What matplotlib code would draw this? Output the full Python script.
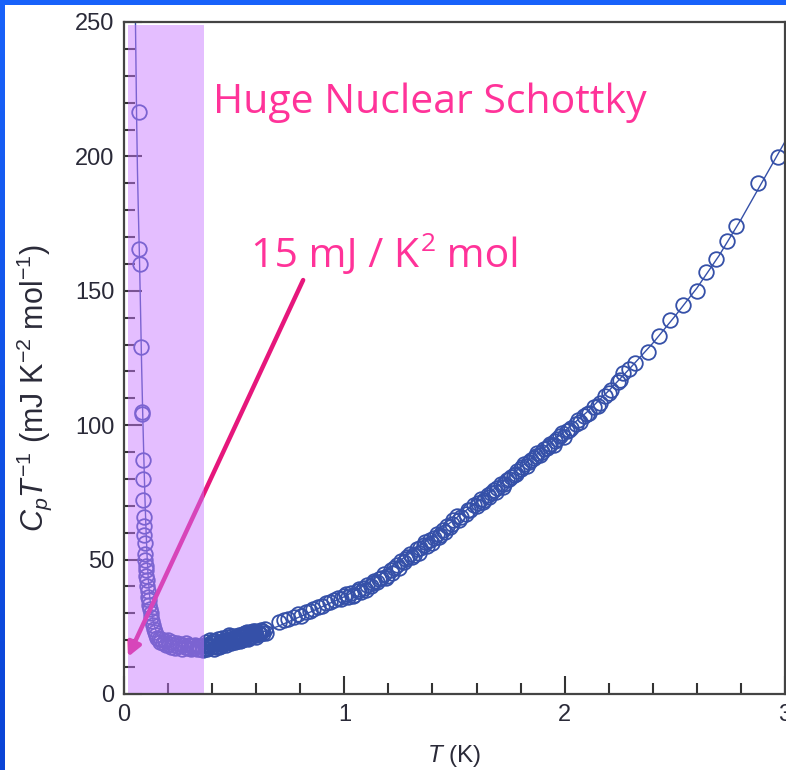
import matplotlib
matplotlib.use("Agg")
import matplotlib.pyplot as plt
from matplotlib import font_manager as fm
from matplotlib.patches import Rectangle
import numpy as np

# ---------------------------------------------------------------- data
# nuclear Schottky upturn below ~0.36 K
T_nuc = [0.068, 0.070, 0.071, 0.078, 0.081, 0.083, 0.086, 0.087, 0.088, 0.090,
         0.091, 0.093, 0.094, 0.096, 0.097, 0.099, 0.100, 0.102, 0.104, 0.106,
         0.108, 0.110, 0.112, 0.115, 0.118, 0.121, 0.124, 0.128, 0.132, 0.136,
         0.141, 0.146, 0.152, 0.158, 0.164, 0.170, 0.177, 0.184, 0.191, 0.198,
         0.205, 0.212, 0.219, 0.226, 0.233, 0.240, 0.247, 0.254, 0.261, 0.268,
         0.275, 0.282, 0.289, 0.296, 0.303, 0.310, 0.317, 0.324, 0.331, 0.338,
         0.345, 0.352, 0.359]
C_nuc = [216.5, 165.5, 160.0, 129.0, 105.0, 104.0, 87.0, 80.0, 72.0, 66.0,
         62.5, 59.0, 56.0, 52.0, 50.0, 47.5, 46.0, 44.0, 42.5, 40.0,
         38.5, 36.0, 35.0, 33.0, 31.5, 30.0, 28.5, 27.0, 25.5, 24.0,
         23.0, 22.0, 21.0, 20.3, 19.5, 20.5, 18.8, 19.6, 18.2, 20.0,
         18.5, 17.6, 19.4, 18.1, 17.2, 19.0, 17.8, 18.6, 16.9, 18.3,
         17.5, 19.1, 17.0, 18.2, 16.8, 17.9, 17.1, 18.4, 16.6, 17.7,
         16.9, 17.8, 16.5]

# electronic + lattice part above ~0.36 K
T_main = [0.366, 0.369, 0.372, 0.378, 0.381, 0.384, 0.390, 0.393, 0.396, 0.402,
          0.405, 0.408, 0.414, 0.417, 0.420, 0.426, 0.429, 0.432, 0.438, 0.441,
          0.444, 0.450, 0.453, 0.456, 0.462, 0.465, 0.468, 0.474, 0.477, 0.480,
          0.486, 0.489, 0.492, 0.498, 0.501, 0.504, 0.510, 0.513, 0.516, 0.522,
          0.525, 0.528, 0.534, 0.537, 0.540, 0.546, 0.549, 0.552, 0.558, 0.561,
          0.564, 0.570, 0.573, 0.576, 0.582, 0.585, 0.588, 0.594, 0.597, 0.600,
          0.608, 0.612, 0.616, 0.624, 0.628, 0.632, 0.640, 0.645,
          0.705, 0.725, 0.745, 0.770, 0.790, 0.805, 0.825, 0.845, 0.860, 0.880,
          0.900, 0.915, 0.935, 0.955, 0.970, 0.985, 1.000,
          1.008, 1.015, 1.030, 1.038, 1.045, 1.060, 1.068, 1.075, 1.090, 1.098,
          1.105, 1.120, 1.128, 1.135, 1.150, 1.158, 1.165, 1.180, 1.188, 1.195,
          1.210, 1.218, 1.225, 1.240, 1.248, 1.255, 1.270, 1.278, 1.285, 1.300,
          1.308, 1.315, 1.330, 1.338, 1.345, 1.360, 1.368, 1.375, 1.390, 1.398,
          1.405, 1.420, 1.428, 1.435, 1.450, 1.458, 1.465, 1.480, 1.488, 1.495,
          1.510, 1.520, 1.530, 1.550, 1.560, 1.570, 1.590, 1.600, 1.605, 1.620,
          1.628, 1.635, 1.650, 1.658, 1.665, 1.680, 1.688, 1.695, 1.710, 1.718,
          1.725, 1.740, 1.748, 1.755, 1.770, 1.778, 1.785, 1.800, 1.808, 1.815,
          1.830, 1.838, 1.845, 1.860, 1.868, 1.875, 1.890, 1.898, 1.905, 1.920,
          1.928, 1.935, 1.950, 1.958, 1.965, 1.980, 1.988, 1.995, 2.010, 2.020,
          2.030, 2.050, 2.060, 2.070, 2.090, 2.100, 2.110, 2.135, 2.150, 2.160,
          2.185, 2.200, 2.210, 2.240, 2.250, 2.266, 2.290, 2.321, 2.376,
          2.430, 2.480, 2.539, 2.602, 2.643, 2.688, 2.738, 2.779, 2.879, 2.966]
C_main = [17.0, 18.2, 19.2, 16.6, 17.8, 18.4, 20.0, 18.8, 17.3, 18.9,
          19.6, 16.8, 19.8, 17.5, 18.0, 20.4, 18.6, 17.6, 19.2, 18.0,
          21.0, 18.5, 19.6, 20.2, 19.0, 18.2, 21.3, 19.7, 21.8, 20.6,
          18.9, 20.3, 21.5, 20.1, 21.0, 19.2, 21.7, 19.6, 20.4, 22.0,
          21.2, 19.8, 21.2, 20.0, 22.4, 20.5, 22.6, 21.8, 22.9, 20.4,
          21.0, 22.3, 21.6, 23.2, 21.5, 23.6, 22.6, 23.5, 21.2, 22.0,
          23.1, 22.8, 22.4, 23.8, 23.4, 22.6, 24.0, 22.7,
          26.8, 27.4, 28.0, 28.8, 29.6, 29.1, 30.4, 31.0, 31.8, 32.3,
          32.9, 33.8, 34.1, 35.0, 35.6, 35.2, 36.4,
          37.2, 36.0, 37.6, 36.4, 36.9, 38.5, 39.2, 38.0, 39.6, 38.8,
          40.5, 40.0, 41.2, 42.0, 41.8, 42.6, 43.3, 44.5, 43.0, 44.0,
          46.2, 45.2, 46.8, 48.0, 47.0, 49.5, 49.0, 50.3, 51.0, 52.2,
          50.8, 51.8, 53.8, 52.6, 54.3, 55.5, 56.4, 55.0, 57.4, 56.2,
          58.0, 59.5, 58.4, 59.2, 61.0, 60.2, 62.5, 62.0, 63.4, 64.6,
          66.3, 64.8, 66.0, 67.0, 68.4, 68.5, 70.2, 69.8, 71.0, 72.5,
          71.4, 72.0, 74.0, 73.2, 74.8, 76.0, 75.2, 76.5, 78.3, 77.0,
          78.0, 79.6, 80.0, 80.8, 81.3, 82.0, 83.0, 83.6, 84.4, 85.5,
          85.0, 86.4, 87.2, 87.8, 88.4, 89.5, 89.0, 90.2, 91.0, 91.6,
          92.2, 93.0, 92.8, 94.2, 95.0, 96.0, 97.0, 95.6, 97.8, 98.2,
          99.0, 100.6, 101.8, 101.2, 103.5, 104.0, 104.6, 106.8, 107.2, 108.4,
          110.8, 112.0, 113.0, 116.2, 117.0, 119.4, 121.0, 123.0, 127.2,
          133.2, 139.1, 144.7, 150.0, 157.0, 161.8, 168.5, 174.1, 190.1, 199.8]

# fitted curve through the data
T_fit = [0.052, 0.057, 0.061, 0.065, 0.070, 0.075, 0.080, 0.085, 0.090, 0.095,
         0.100, 0.105, 0.110, 0.117, 0.125, 0.135, 0.150, 0.170, 0.200, 0.250,
         0.300, 0.350, 0.400, 0.500, 0.600, 0.700, 0.800, 0.900, 1.000, 1.100,
         1.200, 1.300, 1.400, 1.500, 1.600, 1.700, 1.800, 1.900, 2.000, 2.100,
         2.200, 2.300, 2.400, 2.500, 2.600, 2.700, 2.800, 2.900, 3.000]
C_fit = [250.0, 216.0, 195.0, 180.0, 163.0, 143.0, 122.0, 104.0, 88.0, 73.0,
         61.0, 51.0, 43.0, 36.0, 30.5, 26.0, 22.5, 20.2, 18.8, 18.0,
         17.8, 17.9, 18.4, 20.0, 22.2, 25.2, 28.8, 32.5, 36.2, 40.8,
         46.5, 52.5, 58.6, 65.0, 71.3, 77.6, 84.3, 91.0, 97.8, 104.8,
         112.8, 121.5, 130.5, 140.5, 151.0, 163.0, 176.5, 191.0, 205.5]

schottky_band = (0.016, 0.363)
band_note = "Huge Nuclear Schottky"
gamma_note = ("15 mJ / K", "2", " mol")
arrow_from = (0.813, 154.0)
arrow_to = (0.018, 13.8)

x_ticks = [0, 1, 2, 3]
y_ticks = [0, 50, 100, 150, 200, 250]

# ---------------------------------------------------------------- fonts
names = {f.name for f in fm.fontManager.ttflist}
axis_font = "Liberation Sans Narrow" if "Liberation Sans Narrow" in names else "Liberation Sans"
note_font = "Open Sans" if "Open Sans" in names else "DejaVu Sans"
plt.rcParams["font.family"] = [axis_font, "DejaVu Sans"]
plt.rcParams["mathtext.fontset"] = "custom"
plt.rcParams["mathtext.rm"] = axis_font
plt.rcParams["mathtext.it"] = axis_font + ":italic"
plt.rcParams["mathtext.bf"] = axis_font + ":bold"

W, H = 786, 770
fig = plt.figure(figsize=(W / 100, H / 100), dpi=100)
fig.patch.set_facecolor("white")

# slide frame strips (left and top)
strip = fig.add_axes([0, 0, 5 / W, 1])
grad = np.linspace(0, 1, 256).reshape(-1, 1)
strip.imshow(grad, aspect="auto", extent=[0, 1, 0, 1], origin="upper",
             cmap=matplotlib.colors.LinearSegmentedColormap.from_list(
                 "frame", ["#1862FA", "#0A44D6"]))
strip.set_axis_off()
fig.add_artist(Rectangle((0, 1 - 5 / H), 1, 5 / H, transform=fig.transFigure,
                         facecolor="#1862FA", edgecolor="none"))

ax = fig.add_axes([124 / W, 76 / H, 661 / W, 672 / H])
ax.set_xlim(0, 3)
ax.set_ylim(0, 250)

blue = "#3550A8"
ax.plot(T_fit, C_fit, color=blue, lw=1.0, zorder=2)
ax.plot(T_nuc, C_nuc, linestyle="none", marker="o", ms=10.5, mfc="none",
        mec=blue, mew=1.3, zorder=2.1)
ax.plot(T_main, C_main, linestyle="none", marker="o", ms=10.5, mfc="none",
        mec=blue, mew=1.3, zorder=2.1)

# arrow pointing at the Sommerfeld coefficient
ax.annotate("", xy=arrow_to, xytext=arrow_from,
            arrowprops=dict(arrowstyle="-|>", color="#E6177C", lw=3.2,
                            mutation_scale=20, shrinkA=0, shrinkB=0),
            zorder=2.2)

# translucent band marking the Schottky region
ax.axvspan(schottky_band[0], schottky_band[1], ymin=0, ymax=248.9 / 250,
           facecolor="#C878FF", alpha=0.48, edgecolor="none", zorder=2.4)

pink = "#FF3399"
ax.text(0.403, 216.0, band_note, color=pink, fontsize=29.5,
        family=note_font, ha="left", va="baseline", zorder=3)
t1 = ax.text(0.575, 158.9, gamma_note[0], color=pink, fontsize=29.5,
             family=note_font, ha="left", va="baseline", zorder=3)
t2 = ax.annotate(gamma_note[1], xy=(1, 1), xycoords=t1, xytext=(1.5, 3),
                 textcoords="offset points", color=pink, fontsize=19,
                 family=note_font, ha="left", va="top", zorder=3)
ax.annotate(gamma_note[2], xy=(1, 0), xycoords=(t2, t1), color=pink,
            fontsize=29.5, family=note_font, ha="left", va="bottom", zorder=3)

# axes styling
for s in ax.spines.values():
    s.set_color("#444444")
    s.set_linewidth(1.6)
ax.set_xticks(x_ticks)
ax.set_yticks(y_ticks)
ax.set_xticks(np.arange(0, 3.01, 0.2), minor=True)
ax.set_yticks(np.arange(0, 251, 10), minor=True)
ax.tick_params(which="both", direction="in", color="#333333", width=1.5,
               labelcolor="#2A2A38", labelsize=17, top=False, right=False)
ax.tick_params(which="major", length=13, pad=7)
ax.tick_params(which="minor", length=8)

ax.set_xlabel(r"$T$ (K)", fontsize=17.5, color="#2A2A38")
ax.set_ylabel(r"$C_pT^{-1}$ (mJ K$^{-2}$ mol$^{-1}$)", fontsize=22, color="#2A2A38")
ax.xaxis.set_label_coords(0.5, -0.073)
ax.yaxis.set_label_coords(-0.106, 0.455)

fig.savefig("out.png", dpi=100, facecolor="white")
